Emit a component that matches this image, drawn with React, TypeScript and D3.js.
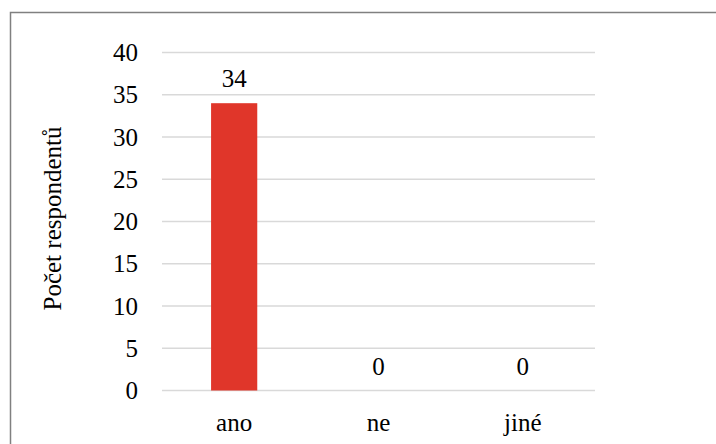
import React, { useEffect, useRef } from "react";
import * as d3 from "d3";

const categories = ["ano", "ne", "jiné"];
const values = [34, 0, 0];
const yTicks = [0, 5, 10, 15, 20, 25, 30, 35, 40];
const yTitle = "Počet respondentů";

const W = 716;
const H = 444;
const plot = { left: 162, right: 595, top: 52.5, bottom: 390.5 };
const FONT = "Liberation Serif";

export default function App() {
  const ref = useRef<SVGSVGElement | null>(null);

  useEffect(() => {
    const svg = d3.select(ref.current);
    svg.selectAll("*").remove();

    const x = d3
      .scaleBand<string>()
      .domain(categories)
      .range([plot.left, plot.right])
      .paddingInner(0.68)
      .paddingOuter(0.34);
    const y = d3.scaleLinear().domain([0, 40]).range([plot.bottom, plot.top]);

    svg
      .append("rect")
      .attr("x", 10.5)
      .attr("y", 12.5)
      .attr("width", W + 20)
      .attr("height", H + 20)
      .attr("fill", "#fff")
      .attr("stroke", "#808080")
      .attr("stroke-width", 1.5);

    const label = (sel: d3.Selection<SVGTextElement, any, any, any>) =>
      sel.style("font-family", FONT).style("font-size", "25px").attr("fill", "#000");

    const grid = svg.append("g");
    grid
      .selectAll("line")
      .data(yTicks)
      .join("line")
      .attr("x1", plot.left)
      .attr("x2", plot.right)
      .attr("y1", (d) => y(d))
      .attr("y2", (d) => y(d))
      .attr("stroke", "#d9d9d9")
      .attr("stroke-width", 1.5);
    grid
      .selectAll("text")
      .data(yTicks)
      .join("text")
      .attr("x", 138)
      .attr("y", (d) => y(d) + 8.5)
      .attr("text-anchor", "end")
      .text((d) => String(d))
      .call(label);

    svg
      .append("g")
      .selectAll("rect")
      .data(categories.map((c, i) => ({ c, v: values[i] })).filter((d) => d.v > 0))
      .join("rect")
      .attr("x", (d) => x(d.c)!)
      .attr("y", (d) => y(d.v))
      .attr("width", x.bandwidth())
      .attr("height", (d) => y(0) - y(d.v))
      .attr("fill", "#E0362A");

    svg
      .append("g")
      .selectAll("text")
      .data(categories.map((c, i) => ({ c, v: values[i] })))
      .join("text")
      .attr("x", (d) => x(d.c)! + x.bandwidth() / 2)
      .attr("y", (d) => y(d.v) - 16)
      .attr("text-anchor", "middle")
      .text((d) => String(d.v))
      .call(label);

    svg
      .append("g")
      .selectAll("text")
      .data(categories)
      .join("text")
      .attr("x", (d) => x(d)! + x.bandwidth() / 2)
      .attr("y", 431)
      .attr("text-anchor", "middle")
      .text((d) => d)
      .call(label);

    svg
      .append("text")
      .attr("transform", `translate(61, ${(plot.top + plot.bottom) / 2 - 3}) rotate(-90)`)
      .attr("text-anchor", "middle")
      .text(yTitle)
      .call(label);
  }, []);

  return <svg ref={ref} width={W} height={H} style={{ position: "absolute", left: 0, top: 0 }} />;
}
